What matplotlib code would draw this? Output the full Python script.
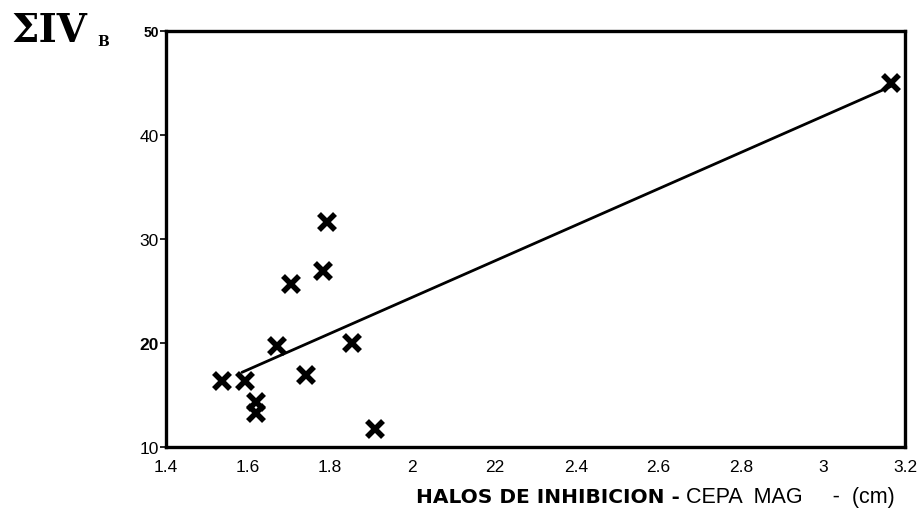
import numpy as np
import matplotlib
matplotlib.use("Agg")
import matplotlib.pyplot as plt

# Inhibition halo diameter (cm) vs. sum of IV_B
halo_cm = [1.536, 1.592, 1.620, 1.620, 1.670, 1.704, 1.741, 1.782, 1.792, 1.853, 1.909, 3.166]
sum_ivb = [16.3, 16.3, 14.3, 13.3, 19.7, 25.7, 16.9, 26.9, 31.6, 20.0, 11.7, 45.0]

x_ticks = [1.4, 1.6, 1.8, 2.0, 2.2, 2.4, 2.6, 2.8, 3.0, 3.2]
x_tick_labels = ["1.4", "1.6", "1.8", "2", "22", "2.4", "2.6", "2.8", "3", "3.2"]
y_ticks = [10, 20, 30, 40, 50]
y_tick_labels = ["10", "20", "30", "40", "50"]
fit_span = (1.585, 3.166)

fig = plt.figure(figsize=(9.23, 5.10), dpi=100)
ax = fig.add_axes([0.1798, 0.1216, 0.8007, 0.8157])

x = np.array(halo_cm)
y = np.array(sum_ivb)
slope, intercept = np.polyfit(x, y, 1)
xl = np.array(fit_span)
ax.plot(xl, slope * xl + intercept, color="black", lw=2.0, solid_capstyle="round")

ax.plot(x, y, linestyle="none", marker="x", ms=11, mew=4.0, color="black")

ax.set_xlim(1.4, 3.2)
ax.set_ylim(10, 50)
ax.set_xticks(x_ticks)
ax.set_xticklabels(x_tick_labels, fontsize=12.5, family="Liberation Sans")
ax.set_yticks(y_ticks)
ax.set_yticklabels(y_tick_labels, fontsize=12.5, family="Liberation Sans")
for lbl in ax.get_yticklabels():
    if lbl.get_text() == "20":
        lbl.set_fontweight("bold")
    if lbl.get_text() == "50":
        lbl.set_fontweight("bold")
        lbl.set_fontsize(10)
ax.tick_params(axis="x", length=0, pad=9)
ax.tick_params(axis="y", length=4, width=1.2, pad=1)
for s in ax.spines.values():
    s.set_linewidth(2.4)
    s.set_color("black")

fig.text(0.012, 0.94, "\u03a3IV", fontsize=28, fontweight="bold",
         family="DejaVu Serif", ha="left", va="center")
fig.text(0.105, 0.918, "B", fontsize=10, fontweight="bold",
         family="DejaVu Serif", ha="left", va="center")
fig.text(0.737, 0.025, "HALOS DE INHIBICION -", fontsize=14.5, fontweight="bold",
         family="DejaVu Sans", ha="right", va="center")
fig.text(0.743, 0.025, "CEPA  MAG     -  (cm)", fontsize=15.5,
         family="Liberation Sans", ha="left", va="center")

fig.savefig("out.png", dpi=100)
